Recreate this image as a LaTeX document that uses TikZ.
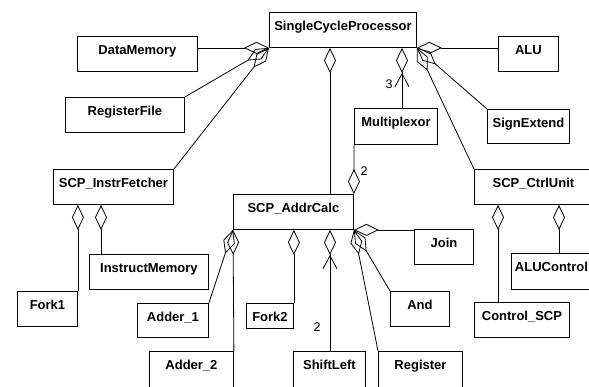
\documentclass[tikz,border=0pt]{standalone}
\usepackage{fontspec}
\setmainfont{Liberation Sans}
\usetikzlibrary{arrows.meta}
\begin{document}
\begin{tikzpicture}[x=1pt,y=-1pt,
  box/.style={draw, rectangle, inner sep=0pt, anchor=north west, text height=18.5pt,
    line width=0.9pt, font=\bfseries\fontsize{13}{15}\selectfont},
  agg/.style={line width=0.8pt, -{Diamond[open,length=25pt,width=12pt]}},
  nav/.style={line width=0.8pt, -{Straight Barb[length=13pt,width=14pt,sep=0pt] Diamond[open,length=25pt,width=12pt]}},
  mult/.style={font=\fontsize{12.5}{14}\selectfont, inner sep=0pt}]
\path[use as bounding box] (0,0) rectangle (589,386);
\clip (0,0) rectangle (589,386);
\fill[white] (0,0) rectangle (589,386);
% boxes
\node[box, minimum width=147pt, text depth=16.5pt] (scp) at (269,12) {SingleCycleProcessor};
\node[box, minimum width=120pt, text depth=16.5pt] (dm) at (77,36) {DataMemory};
\node[box, minimum width=119pt, text depth=16.5pt] (rf) at (65,97) {RegisterFile};
\node[box, minimum width=120pt, text depth=16.5pt] (ifetch) at (53,169) {SCP\_InstrFetcher};
\node[box, minimum width=60pt, text depth=16.5pt] (alu) at (498,36) {ALU};
\node[box, minimum width=82pt, text depth=15.5pt] (sext) at (487,109) {SignExtend};
\node[box, minimum width=83pt, text depth=17.5pt] (mux) at (354,108) {Multiplexor};
\node[box, minimum width=118pt, text depth=16.5pt] (ctrl) at (474,169) {SCP\_CtrlUnit};
\node[box, minimum width=120pt, text depth=16.5pt] (addr) at (233,194) {SCP\_AddrCalc};
\node[box, minimum width=119pt, text depth=16.5pt] (imem) at (89,254) {InstructMemory};
\node[box, minimum width=60pt, text depth=16.5pt] (fork1) at (17,291) {Fork1};
\node[box, minimum width=71pt, text depth=15.5pt] (adder1) at (137,303) {Adder\_1};
\node[box, minimum width=47pt, text depth=6.5pt] (fork2) at (246,303) {Fork2};
\node[box, minimum width=59pt, text depth=16.5pt] (join) at (414,229) {Join};
\node[box, minimum width=59pt, text depth=16.5pt] (and) at (390,291) {And};
\node[box, minimum width=80pt, text depth=17.5pt] (aluc) at (511,253) {ALUControl};
\node[box, minimum width=95pt, text depth=16.5pt] (csp) at (474,302) {Control\_SCP};
\node[box, minimum width=84pt, text depth=26.5pt] (adder2) at (149,351) {Adder\_2};
\node[box, minimum width=72pt, text depth=26.5pt] (shl) at (293,351) {ShiftLeft};
\node[box, minimum width=84pt, text depth=26.5pt] (reg) at (378,351) {Register};
% aggregations to SingleCycleProcessor
\draw[agg] (dm.east |- scp.south west) -- (scp.south west);
\draw[agg] (rf.north east) -- (scp.south west);
\draw[agg] (ifetch.north east) -- (scp.south west);
\draw[agg] (alu.west |- scp.south east) -- (scp.south east);
\draw[agg] (sext.north west) -- (scp.south east);
\draw[agg] (ctrl.north west) -- (scp.south east);
\draw[agg] ([xshift=97pt]addr.north west) -- ([xshift=97pt]addr.north west |- scp.south);
\draw[nav] ([xshift=48pt]mux.north west) -- ([xshift=48pt]mux.north west |- scp.south);
\node[mult] (m3) at (389,84) {3};
% Multiplexor to AddrCalc
\draw[agg] (mux.south west) -- (addr.north east);
\node[mult] (m2a) at (364,171) {2};
% InstrFetcher parts
\draw[agg] ([xshift=12pt]imem.north west) -- ([xshift=12pt]imem.north west |- ifetch.south);
\draw[agg] (fork1.north east) -- (fork1.north east |- ifetch.south);
% AddrCalc parts
\draw[agg] (adder1.north east) -- (addr.south west);
\draw[agg] (adder2.north east) -- (addr.south west);
\draw[agg] (fork2.north east) -- (fork2.north east |- addr.south);
\draw[nav] ([xshift=37pt]shl.north west) -- ([xshift=37pt]shl.north west |- addr.south);
\node[mult] (m2b) at (317,327) {2};
\draw[agg] (join.west |- addr.south east) -- (addr.south east);
\draw[agg] (and.north west) -- (addr.south east);
\draw[agg] (reg.north west) -- (addr.south east);
% CtrlUnit parts
\draw[agg] ([xshift=24pt]csp.north west) -- ([xshift=24pt]csp.north west |- ctrl.south);
\draw[agg] ([xshift=48pt]aluc.north west) -- ([xshift=48pt]aluc.north west |- ctrl.south);
\end{tikzpicture}
\end{document}
